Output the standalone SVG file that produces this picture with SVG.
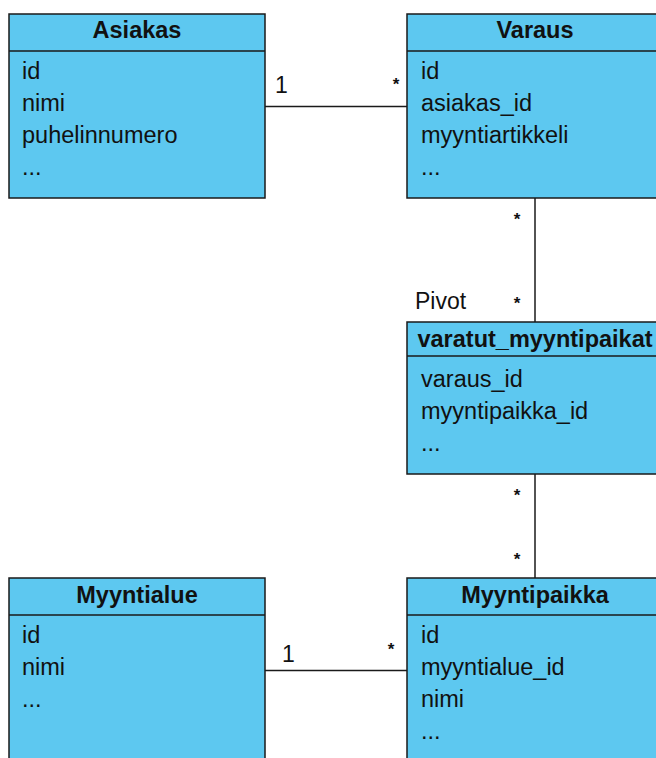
<svg xmlns="http://www.w3.org/2000/svg" width="656" height="758" viewBox="0 0 656 758">
<style>
.box{fill:#5DC8F0;stroke:#1a1a1a;stroke-width:1.5}
.sep{stroke:#1a1a1a;stroke-width:1.5;fill:none}
.ttl{font-family:"Liberation Sans",Arial,sans-serif;font-weight:bold;font-size:23.5px;fill:#111;text-anchor:middle}
.row{font-family:"Liberation Sans",Arial,sans-serif;font-size:23.5px;fill:#111}
.lbl{font-family:"Liberation Sans",Arial,sans-serif;font-size:23px;fill:#111}
.star{font-family:"Liberation Sans",Arial,sans-serif;font-size:17px;font-weight:bold;fill:#111;text-anchor:middle}
.conn{stroke:#1a1a1a;stroke-width:1.5;fill:none}
</style>
<rect width="656" height="758" fill="#ffffff"/>
<g id="connectors">
<line class="conn" x1="265" y1="106.5" x2="407" y2="106.5"/>
<line class="conn" x1="535" y1="198" x2="535" y2="322"/>
<line class="conn" x1="535" y1="474" x2="535" y2="578"/>
<line class="conn" x1="265" y1="670.5" x2="407" y2="670.5"/>
<text class="lbl" x="275" y="93">1</text>
<text class="star" x="396" y="90">*</text>
<text class="star" x="517" y="225">*</text>
<text class="star" x="517" y="309">*</text>
<text class="lbl" x="415" y="309">Pivot</text>
<text class="star" x="517" y="501">*</text>
<text class="star" x="517" y="565">*</text>
<text class="lbl" x="282" y="662">1</text>
<text class="star" x="391" y="655">*</text>
</g>
<g id="asiakas">
<rect class="box" x="9" y="14" width="256" height="184"/>
<line class="sep" x1="9" y1="51" x2="265" y2="51"/>
<text class="ttl" x="137" y="38">Asiakas</text>
<text class="row" x="22" y="79">id</text>
<text class="row" x="22" y="111">nimi</text>
<text class="row" x="22" y="143">puhelinnumero</text>
<text class="row" x="22" y="175">...</text>
</g>
<g id="varaus">
<rect class="box" x="407" y="14" width="256" height="184"/>
<line class="sep" x1="407" y1="51" x2="663" y2="51"/>
<text class="ttl" x="535" y="38">Varaus</text>
<text class="row" x="421" y="79">id</text>
<text class="row" x="421" y="111">asiakas_id</text>
<text class="row" x="421" y="143">myyntiartikkeli</text>
<text class="row" x="421" y="175">...</text>
</g>
<g id="varatut_myyntipaikat">
<rect class="box" x="407" y="322" width="256" height="152"/>
<line class="sep" x1="407" y1="356" x2="663" y2="356"/>
<text class="ttl" x="535" y="347">varatut_myyntipaikat</text>
<text class="row" x="421" y="387">varaus_id</text>
<text class="row" x="421" y="419">myyntipaikka_id</text>
<text class="row" x="421" y="451">...</text>
</g>
<g id="myyntialue">
<rect class="box" x="9" y="578" width="256" height="200"/>
<line class="sep" x1="9" y1="615" x2="265" y2="615"/>
<text class="ttl" x="137" y="603">Myyntialue</text>
<text class="row" x="22" y="643">id</text>
<text class="row" x="22" y="675">nimi</text>
<text class="row" x="22" y="707">...</text>
</g>
<g id="myyntipaikka">
<rect class="box" x="407" y="578" width="256" height="200"/>
<line class="sep" x1="407" y1="615" x2="663" y2="615"/>
<text class="ttl" x="535" y="603">Myyntipaikka</text>
<text class="row" x="421" y="643">id</text>
<text class="row" x="421" y="675">myyntialue_id</text>
<text class="row" x="421" y="707">nimi</text>
<text class="row" x="421" y="739">...</text>
</g>
</svg>
